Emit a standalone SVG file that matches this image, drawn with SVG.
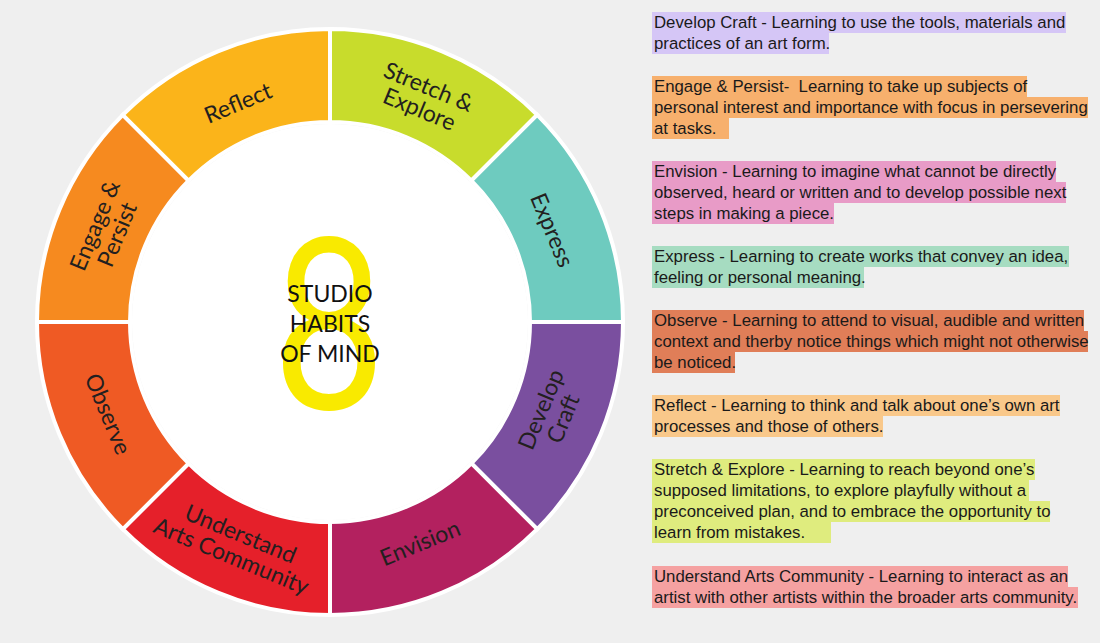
<svg xmlns="http://www.w3.org/2000/svg" width="1100" height="643" viewBox="0 0 1100 643">
<style>
.seg{stroke:#fff;stroke-width:4;stroke-linejoin:miter}
.lbl{font-family:Lato,"Open Sans",sans-serif;font-size:23px;fill:#231f20;text-anchor:middle}
.ctr{font-family:Lato,"Open Sans",sans-serif;font-size:23px;fill:#111;text-anchor:middle}
.d{font-family:"Liberation Sans",Arial,sans-serif;font-size:16.8px;fill:#1a1a1a}
</style>
<rect width="1100" height="643" fill="#efefef"/>
<g id="wheel">
<path class="seg" fill="#c8dc2c" d="M330,29 A293,293 0 0 1 537.2,114.8 L471.4,180.6 A200,200 0 0 0 330,122 Z"/>
<path class="seg" fill="#6ecbbf" d="M537.2,114.8 A293,293 0 0 1 623,322 L530,322 A200,200 0 0 0 471.4,180.6 Z"/>
<path class="seg" fill="#7a4f9f" d="M623,322 A293,293 0 0 1 537.2,529.2 L471.4,463.4 A200,200 0 0 0 530,322 Z"/>
<path class="seg" fill="#b3215f" d="M537.2,529.2 A293,293 0 0 1 330,615 L330,522 A200,200 0 0 0 471.4,463.4 Z"/>
<path class="seg" fill="#e5202a" d="M330,615 A293,293 0 0 1 122.8,529.2 L188.6,463.4 A200,200 0 0 0 330,522 Z"/>
<path class="seg" fill="#ef5a24" d="M122.8,529.2 A293,293 0 0 1 37,322 L130,322 A200,200 0 0 0 188.6,463.4 Z"/>
<path class="seg" fill="#f68a1f" d="M37,322 A293,293 0 0 1 122.8,114.8 L188.6,180.6 A200,200 0 0 0 130,322 Z"/>
<path class="seg" fill="#fbb41a" d="M122.8,114.8 A293,293 0 0 1 330,29 L330,122 A200,200 0 0 0 188.6,180.6 Z"/>
<circle cx="330" cy="322" r="198" fill="#fff"/>
</g>
<g id="labels">
<text class="lbl" transform="translate(238,103) rotate(-22.5)" y="8">Reflect</text>
<text class="lbl" transform="translate(424,98) rotate(22.5)"><tspan x="0" y="-4">Stretch &amp;</tspan><tspan x="0" y="20">Explore</tspan></text>
<text class="lbl" transform="translate(552,230) rotate(67.5)" y="8">Express</text>
<text class="lbl" transform="translate(552,414) rotate(-67.5)"><tspan x="0" y="-4">Develop</tspan><tspan x="0" y="20">Craft</tspan></text>
<text class="lbl" transform="translate(420,543) rotate(-22.5)" y="8">Envision</text>
<text class="lbl" transform="translate(236,545) rotate(22.5)"><tspan x="0" y="-4">Understand</tspan><tspan x="0" y="20">Arts Community</tspan></text>
<text class="lbl" transform="translate(108,414) rotate(67.5)" y="8">Observe</text>
<text class="lbl" transform="translate(106,230) rotate(-67.5)"><tspan x="0" y="-4">Engage &amp;</tspan><tspan x="0" y="20">Persist</tspan></text>
</g>
<g id="center">
<text transform="translate(329,409) scale(0.8,1)" text-anchor="middle" font-family="Lato,'Open Sans',sans-serif" font-size="238" fill="#f9ea00">8</text>
<text class="ctr" x="330" y="302">STUDIO</text>
<text class="ctr" x="330" y="332">HABITS</text>
<text class="ctr" x="330" y="362">OF MIND</text>
</g>
<g id="legend">
<g fill="#d5c6f6"><rect x="652" y="12" width="414" height="21"/><rect x="652" y="33" width="177" height="21"/></g>
<text class="d" x="654" y="28">Develop Craft - Learning to use the tools, materials and</text>
<text class="d" x="654" y="49">practices of an art form.</text>
<g fill="#f7b06d"><rect x="652" y="76" width="375" height="21"/><rect x="652" y="97" width="436" height="21"/><rect x="652" y="118" width="77" height="21"/></g>
<text class="d" x="654" y="92" xml:space="preserve">Engage &amp; Persist-  Learning to take up subjects of</text>
<text class="d" x="654" y="113">personal interest and importance with focus in persevering</text>
<text class="d" x="654" y="134">at tasks.</text>
<g fill="#e89bc7"><rect x="652" y="161" width="404" height="21"/><rect x="652" y="182" width="414" height="21"/><rect x="652" y="203" width="182" height="21"/></g>
<text class="d" x="654" y="177">Envision - Learning to imagine what cannot be directly</text>
<text class="d" x="654" y="198">observed, heard or written and to develop possible next</text>
<text class="d" x="654" y="219">steps in making a piece.</text>
<g fill="#a6dcc1"><rect x="652" y="246" width="417" height="21"/><rect x="652" y="267" width="212" height="21"/></g>
<text class="d" x="654" y="262">Express - Learning to create works that convey an idea,</text>
<text class="d" x="654" y="283">feeling or personal meaning.</text>
<g fill="#e07e58"><rect x="652" y="310" width="432" height="21"/><rect x="652" y="331" width="436" height="21"/><rect x="652" y="352" width="83" height="21"/></g>
<text class="d" x="654" y="326">Observe - Learning to attend to visual, audible and written</text>
<text class="d" x="654" y="347">context and therby notice things which might not otherwise</text>
<text class="d" x="654" y="368">be noticed.</text>
<g fill="#f9c88a"><rect x="652" y="395" width="408" height="21"/><rect x="652" y="416" width="231" height="21"/></g>
<text class="d" x="654" y="411">Reflect - Learning to think and talk about one’s own art</text>
<text class="d" x="654" y="432">processes and those of others.</text>
<g fill="#dfec7e"><rect x="652" y="459" width="383" height="21"/><rect x="652" y="480" width="377" height="21"/><rect x="652" y="501" width="398" height="21"/><rect x="652" y="522" width="179" height="21"/></g>
<text class="d" x="654" y="475">Stretch &amp; Explore - Learning to reach beyond one’s</text>
<text class="d" x="654" y="496">supposed limitations, to explore playfully without a</text>
<text class="d" x="654" y="517">preconceived plan, and to embrace the opportunity to</text>
<text class="d" x="654" y="538">learn from mistakes.</text>
<g fill="#f5a1a1"><rect x="652" y="566" width="416" height="21"/><rect x="652" y="587" width="426" height="21"/></g>
<text class="d" x="654" y="582">Understand Arts Community - Learning to interact as an</text>
<text class="d" x="654" y="603">artist with other artists within the broader arts community.</text>
</g>
</svg>
